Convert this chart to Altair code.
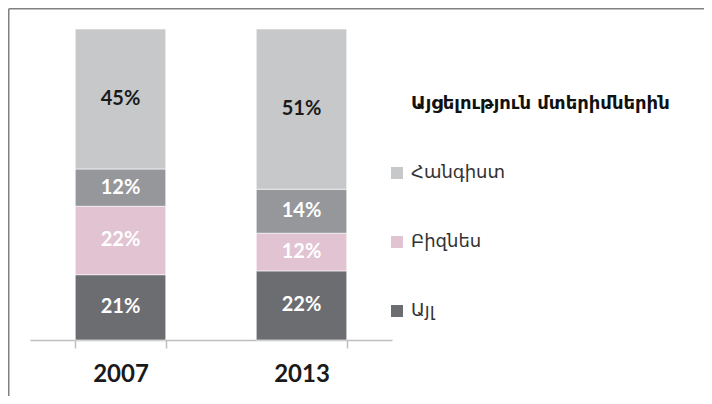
import altair as alt
import pandas as pd

years = ["2007", "2013"]
categories = ["Այլ", "Բիզնես", "Այցելություն մտերիմներին", "Հանգիստ"]  # bottom to top
values_2007 = [21, 22, 12, 45]
values_2013 = [22, 12, 14, 51]

legend_order = ["Այցելություն մտերիմներին", "Հանգիստ", "Բիզնես", "Այլ"]
legend_colors = ["#96979b", "#c7c8ca", "#e2c3d2", "#6c6d71"]

rows = []
for yr, vals in zip(years, [values_2007, values_2013]):
    for i, (c, v) in enumerate(zip(categories, vals)):
        rows.append({"year": yr, "cat": c, "value": v, "ord": i, "label": f"{v}%"})
df = pd.DataFrame(rows)

W, H = 362, 311
PL, PT, PR, PB = 22, 21, 312, 56

base = alt.Chart(df).transform_stack(
    stack="value", groupby=["year"], sort=[alt.SortField("ord", order="ascending")],
    as_=["y0", "y1"], offset="normalize"
).transform_calculate(mid="(datum.y0 + datum.y1) / 2")

x_enc = alt.X(
    "year:N", title=None,
    scale=alt.Scale(paddingInner=0.5, paddingOuter=0.25),
    axis=alt.Axis(
        labelAngle=0, labelFont="Lato", labelFontSize=24, labelFontWeight="bold",
        labelColor="#1a1a1a", labelPadding=14, labelBaseline="top",
        domainColor="#bfbfbf", domainWidth=1.5, tickColor="#bfbfbf", tickWidth=1.5,
        tickSize=8, tickBand="extent",
    ),
)

first = legend_order[0]

bars = base.mark_bar(stroke="white", strokeWidth=0.6).encode(
    x=x_enc,
    y=alt.Y("y0:Q", scale=alt.Scale(domain=[0, 1], nice=False, zero=True), axis=None),
    y2="y1:Q",
    color=alt.Color(
        "cat:N",
        scale=alt.Scale(domain=legend_order, range=legend_colors),
        legend=alt.Legend(
            title=None, orient="none", legendX=358, legendY=66,
            symbolType="square", symbolSize=144, symbolStrokeWidth=0,
            symbolOpacity=alt.ExprRef(f"datum.value === '{first}' ? 0 : 1"),
            labelFont="DejaVu Sans", labelFontSize=18,
            labelColor=alt.ExprRef(f"datum.value === '{first}' ? '#111111' : '#333333'"),
            labelFontWeight=alt.ExprRef(f"datum.value === '{first}' ? 'bold' : 'normal'"),
            labelOffset=5, rowPadding=51, labelLimit=400,
        ),
    ),
)

texts = base.mark_text(font="Lato", fontSize=20, fontWeight="bold").encode(
    x=alt.X("year:N"),
    y=alt.Y("mid:Q"),
    text="label:N",
    color=alt.condition(alt.datum.cat == "Հանգիստ", alt.value("#1a1a1a"), alt.value("white")),
)

frame_df = pd.DataFrame({"k": [0]})
frame_top = alt.Chart(frame_df).mark_rule(color="#808080", strokeWidth=1.5).encode(
    x=alt.value(-PL + 0.75), x2=alt.value(W + PR), y=alt.value(-PT + 0.75)
)
frame_left = alt.Chart(frame_df).mark_rule(color="#808080", strokeWidth=1.5).encode(
    x=alt.value(-PL + 0.75), y=alt.value(-PT + 0.75), y2=alt.value(H + PB)
)

chart = alt.layer(bars, texts, frame_top, frame_left).properties(
    width=W, height=H,
    autosize=alt.AutoSizeParams(type="none"),
    padding={"left": PL, "top": PT, "right": PR, "bottom": PB},
).configure_view(stroke=None)

chart.save("out.html", embed_options={"renderer": "svg", "actions": False})
